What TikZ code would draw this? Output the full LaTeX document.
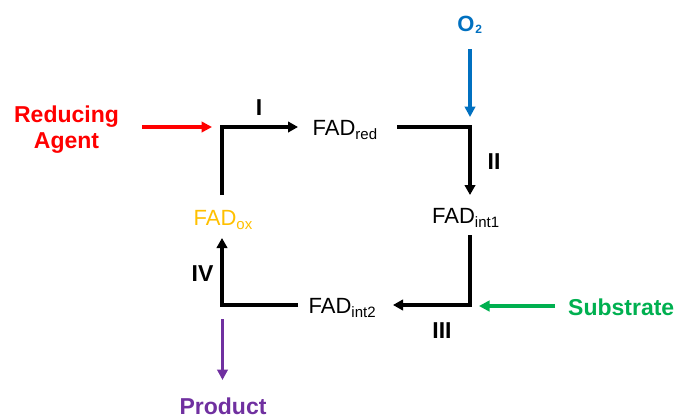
\documentclass[tikz,border=0pt]{standalone}
\usepackage{fontspec}
\setmainfont{Liberation Sans}
\usetikzlibrary{arrows.meta}
\definecolor{cred}{RGB}{255,0,0}
\definecolor{cblue}{RGB}{0,112,192}
\definecolor{cgold}{RGB}{255,192,0}
\definecolor{cgreen}{RGB}{0,176,80}
\definecolor{cpurple}{RGB}{112,48,160}
\newcommand\fsub[1]{\raisebox{-4.5pt}{\fontsize{15}{15}\selectfont #1}}
\newcommand\osub[1]{\kern1pt\raisebox{-2pt}{\fontsize{12}{12}\selectfont\bfseries #1}}
\begin{document}
\begin{tikzpicture}[x=1pt,y=-1pt,
  lbl/.style={font=\fontsize{23}{26}\selectfont\bfseries, inner sep=0pt, anchor=base},
  fadtxt/.style={font=\fontsize{22}{26}\selectfont, inner sep=0pt, anchor=base west},
  cyc/.style={line width=3.5pt, line join=miter, -{Triangle[length=10pt,width=10.5pt]}},
  feed/.style={line width=3.2pt, -{Triangle[length=10.5pt,width=10.5pt]}}]
\useasboundingbox (0,0) rectangle (678,418);

% cycle nodes
\node[fadtxt] (red) at (312.5,135) {FAD\fsub{red}};
\node[fadtxt, text=cgold] (ox) at (193.5,225) {FAD\fsub{ox}};
\node[fadtxt] (int1) at (432,223) {FAD\fsub{int1}};
\node[fadtxt] (int2) at (308.5,313) {FAD\fsub{int2}};

% corners
\coordinate (tl) at (222,127);
\coordinate (tr) at (470,127);
\coordinate (br) at (470,305);
\coordinate (bl) at (222,305);

% free ends
\coordinate (s1) at (222,195);  \coordinate (e1) at (298,127);
\coordinate (s2) at (397,127);  \coordinate (e2) at (470,195);
\coordinate (s3) at (470,235);  \coordinate (e3) at (393,305);
\coordinate (s4) at (298,305);  \coordinate (e4) at (222,238);

% cycle arrows
\draw[cyc] (s1) -- (tl) -- (e1);
\draw[cyc] (s2) -- (tr) -- (e2);
\draw[cyc] (s3) -- (br) -- (e3);
\draw[cyc] (s4) -- (bl) -- (e4);

% step labels
\node[lbl] (l1) at (259,115) {I};
\node[lbl] (l2) at (494,169) {II};
\node[lbl] (l3) at (442,338) {III};
\node[lbl] (l4) at (202.5,281.5) {IV};

% inputs / outputs
\node[font=\fontsize{23}{26}\selectfont\bfseries, inner sep=0pt, align=center, text=cred] (agent) at (66.5,130) {Reducing\\Agent};
\node[font=\fontsize{22}{24}\selectfont\bfseries, inner sep=0pt, anchor=base, text=cblue] (o2) at (469.7,31.7) {O\osub{2}};
\node[lbl, anchor=base west, text=cgreen] (sub) at (568,315) {Substrate};
\node[lbl, text=cpurple] (prod) at (223,414.5) {Product};

\coordinate (ra) at (142,127); \coordinate (rb) at (212,127);
\coordinate (ba) at (470,49);  \coordinate (bb) at (470,117);
\coordinate (ga) at (555,306); \coordinate (gb) at (479,306);
\coordinate (pa) at (222.5,319); \coordinate (pb) at (222.5,380);

\draw[feed, cred] (ra) -- (rb);
\draw[feed, cblue] (ba) -- (bb);
\draw[feed, cgreen] (ga) -- (gb);
\draw[feed, cpurple] (pa) -- (pb);
\end{tikzpicture}
\end{document}
